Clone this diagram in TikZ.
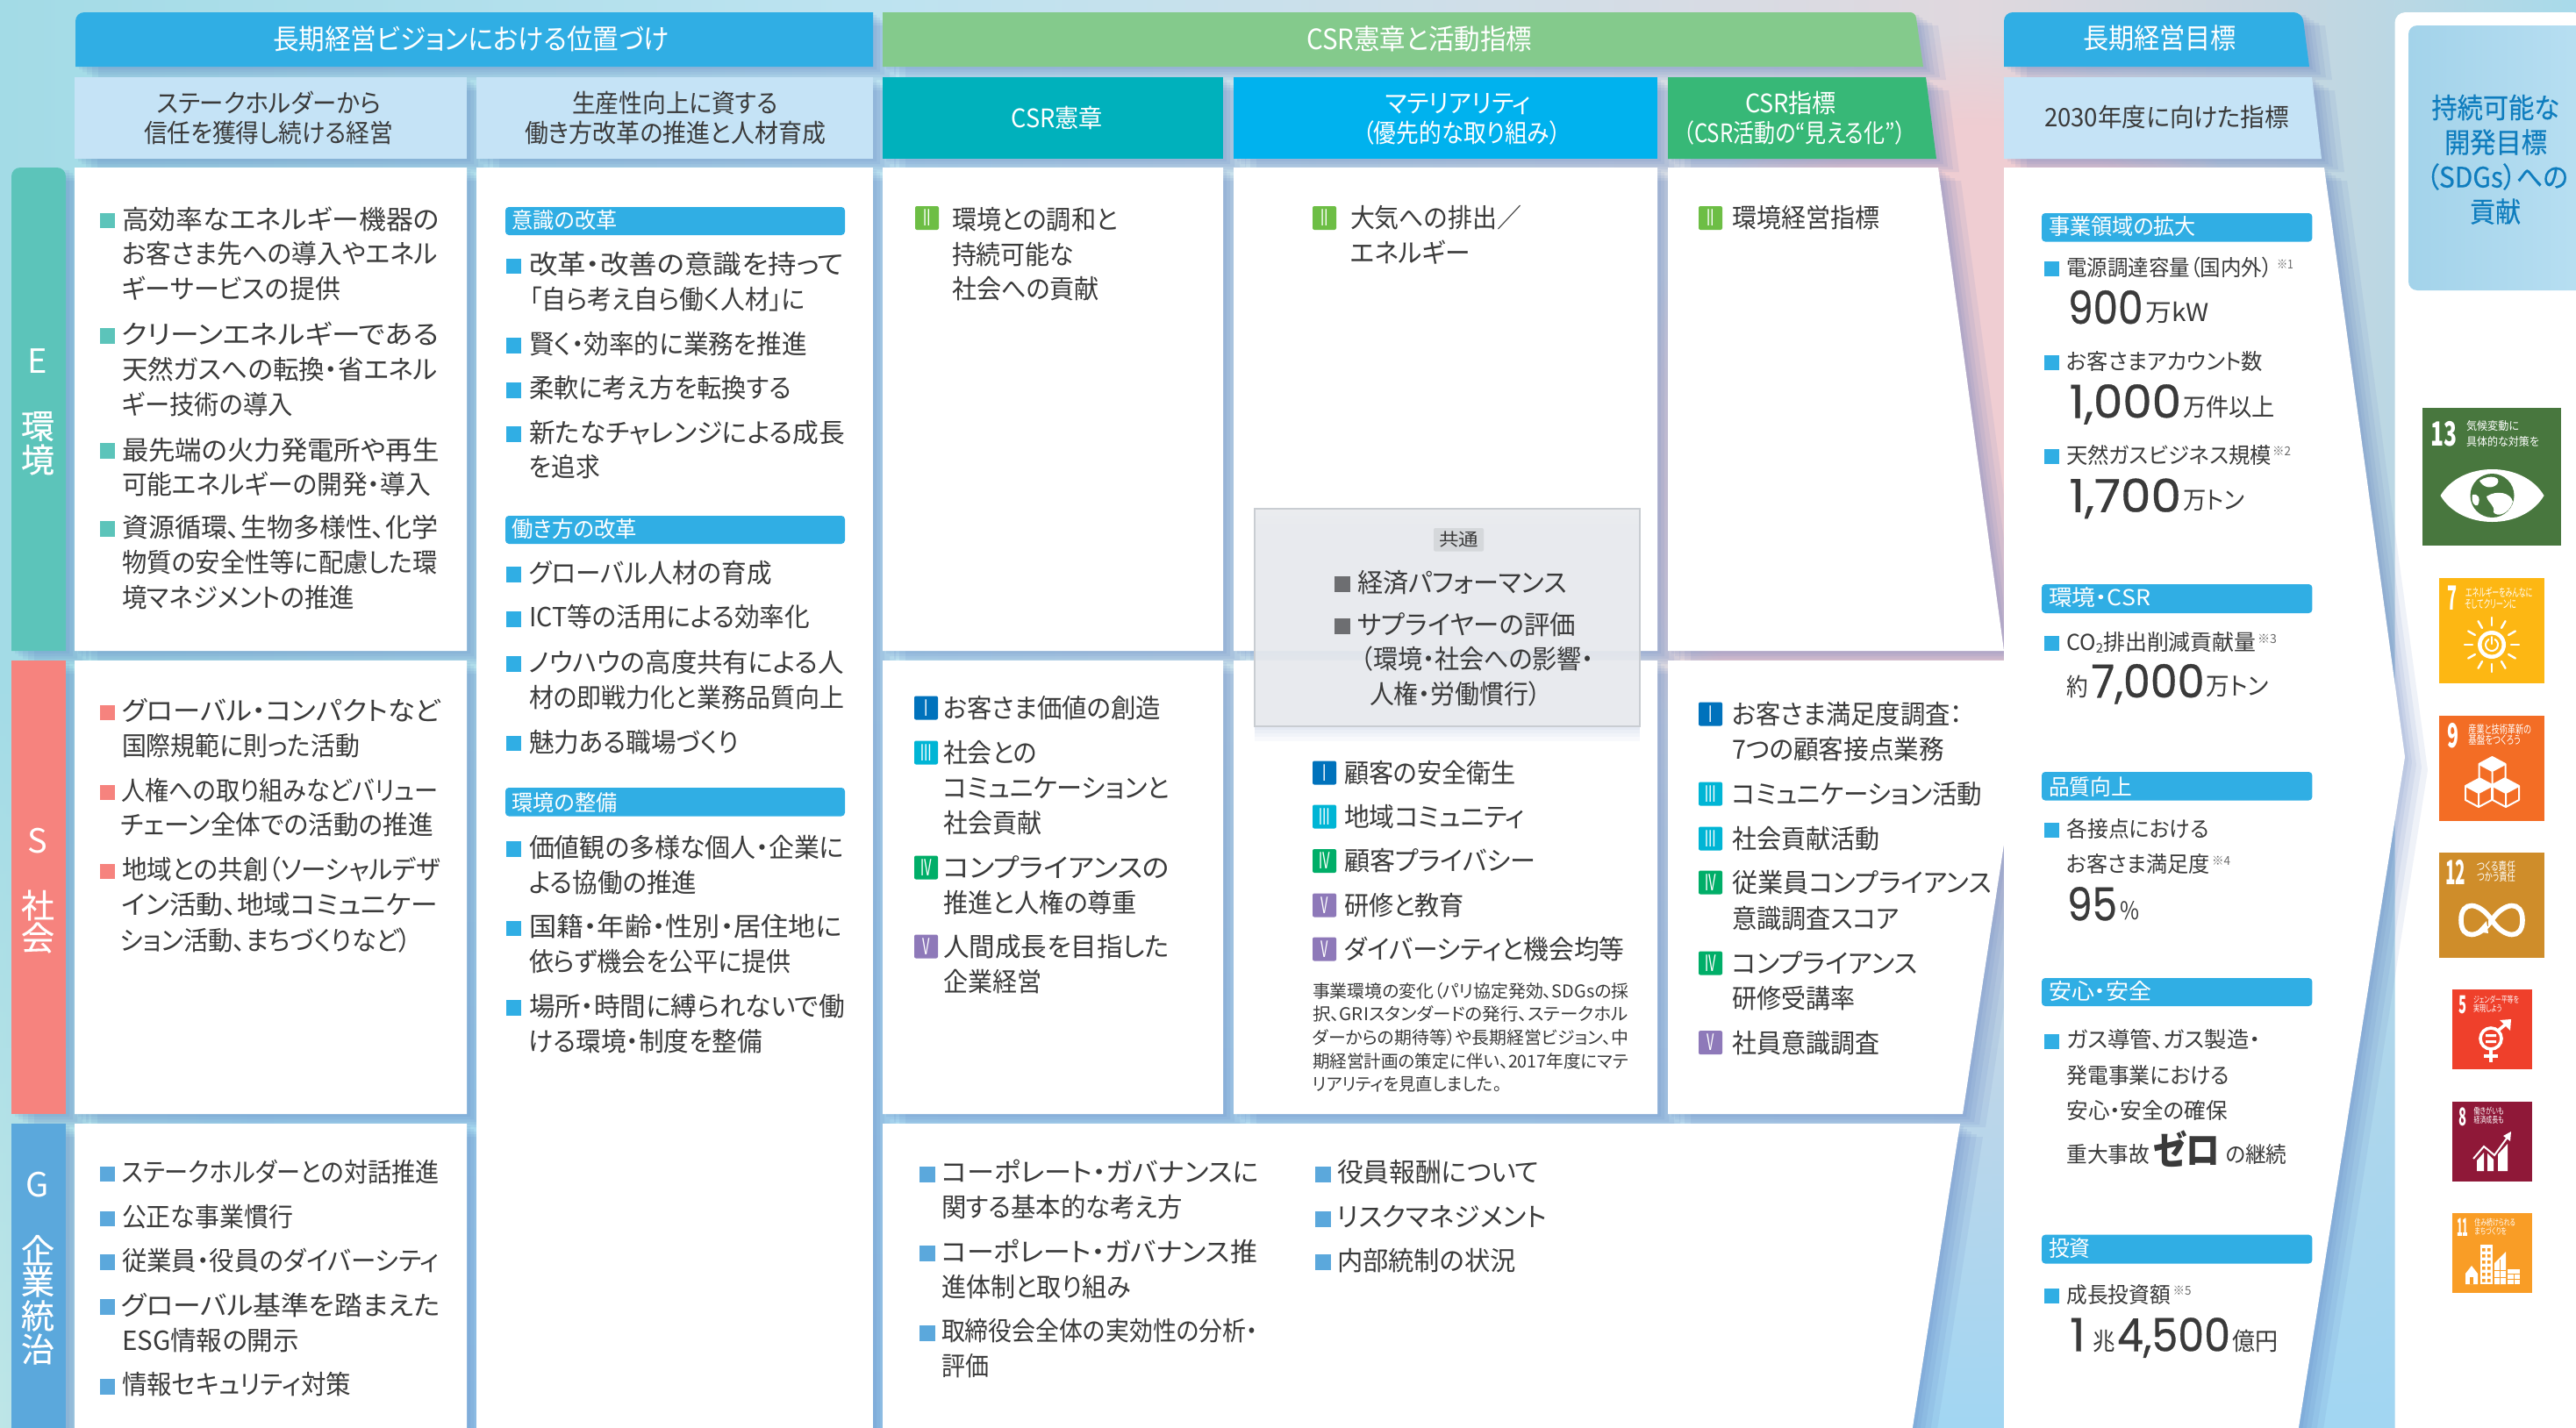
\documentclass[tikz,border=0pt]{standalone}
\usepackage{graphicx}
\usepackage{fontspec}
\usetikzlibrary{fadings}
\setmainfont{Noto Sans CJK JP}[RawFeature={+palt}]
\newfontfamily\numfont{Poppins}[FakeBold=0.6]
\newfontfamily\medfont{Noto Sans CJK JP}[RawFeature={+palt},FakeBold=0.35]
\definecolor{ink}{HTML}{3A3A3A}
\definecolor{hblue}{HTML}{30AEE4}
\definecolor{hgreen}{HTML}{84CA8C}
\definecolor{subl}{HTML}{C5E3F6}
\definecolor{cteal}{HTML}{00B1BC}
\definecolor{cblue}{HTML}{00B2EE}
\definecolor{cgreen}{HTML}{37B877}
\definecolor{barE}{HTML}{5CC4BA}
\definecolor{barS}{HTML}{F6837E}
\definecolor{barG}{HTML}{5BA8DC}
\definecolor{rI}{HTML}{0072BC}
\definecolor{rII}{HTML}{6DBE45}
\definecolor{rIII}{HTML}{00B5D5}
\definecolor{rIV}{HTML}{00AE68}
\definecolor{rV}{HTML}{8E79B9}
\definecolor{shad}{HTML}{4A6DB8}
\definecolor{bgA}{HTML}{A3DBE6}
\definecolor{bgB}{HTML}{BDE3F0}
\definecolor{bgC}{HTML}{D0DEE8}
\definecolor{bgD}{HTML}{E0D8DE}
\definecolor{bgE}{HTML}{C6D6E0}
\definecolor{bgF}{HTML}{A8DAEA}
\definecolor{bgP}{HTML}{EFCDD2}
\definecolor{botA}{HTML}{BEE6E8}
\definecolor{botB}{HTML}{A2D6F3}
\definecolor{sdgT}{HTML}{0F7DBE}
\definecolor{sdgboxA}{HTML}{A3D3EA}
\definecolor{sdgboxB}{HTML}{B8DFF2}
\definecolor{sdgXIII}{HTML}{48773E}
\definecolor{sdgVII}{HTML}{FDB713}
\definecolor{sdgIX}{HTML}{F36D25}
\definecolor{sdgXII}{HTML}{CF8D2A}
\definecolor{sdgV}{HTML}{EF402B}
\definecolor{sdgVIII}{HTML}{8F1838}
\definecolor{sdgXI}{HTML}{F99D26}
\definecolor{grayfill}{HTML}{E9EBEE}
\definecolor{grayline}{HTML}{C9CDD2}
\definecolor{graytag}{HTML}{D5D8DB}
\definecolor{graybul}{HTML}{6D6E71}
\pgfdeclarehorizontalshading{bgtop}{100bp}{color(0bp)=(bgA);color(25bp)=(bgA);color(42bp)=(bgB);color(54bp)=(bgC);color(63.3bp)=(bgD);color(69.3bp)=(bgE);color(75bp)=(bgF);color(100bp)=(bgF)}
\pgfdeclarehorizontalshading{bgbot}{100bp}{color(0bp)=(botA);color(25bp)=(botA);color(30bp)=(botB);color(100bp)=(botB)}
\tikzfading[name=fadedown,top color=transparent!100,bottom color=transparent!0]
\tikzset{
  txt/.style={inner sep=0pt,outer sep=0pt,anchor=west,text=ink},
  body/.style={txt,font=\fontsize{15}{18}\selectfont},
  toph/.style={txt,text=white,font=\fontsize{16}{18}\selectfont},
  head/.style={txt,text=white,font=\fontsize{14.5}{18}\selectfont},
  subh/.style={txt,font=\fontsize{14.5}{18}\selectfont},
  bandt/.style={txt,text=white,font=\fontsize{12.5}{15}\selectfont},
  goal/.style={txt,font=\fontsize{12.5}{15}\selectfont},
  tiny/.style={txt,font=\fontsize{10}{12}\selectfont},
  noteb/.style={txt,font=\fontsize{7}{9}\selectfont,text=ink!75},
  big/.style={txt,font=\numfont\fontsize{26}{30}\selectfont},
  unit/.style={txt,font=\fontsize{14}{17}\selectfont},
  sidet/.style={txt,anchor=center,text=white,font=\fontsize{19}{22}\selectfont},
  sidek/.style={sidet,font=\medfont\fontsize{19}{22}\selectfont},
  sdgb/.style={txt,text=sdgT,font=\medfont\fontsize{16}{20}\selectfont},
  icn/.style={txt,text=white,font=\bfseries\fontsize{19}{22}\selectfont},
  ics/.style={txt,text=white,font=\fontsize{6.5}{8}\selectfont},
  icb/.style={txt,text=white,font=\bfseries\fontsize{14}{16}\selectfont},
  icc/.style={txt,text=white,font=\fontsize{5}{6}\selectfont},
  band/.style={fill=hblue,rounded corners=2pt},
  badge/.style={inner sep=0pt,outer sep=0pt,minimum width=13.5pt,minimum height=13.5pt,rounded corners=1pt,text=white,font=\fontsize{10}{10}\selectfont},
  iline/.style={white,line width=1pt},
}
\newcounter{tn}
% [style]{x left}{x right}{y centre}{text}: one printed line, fitted to its measured width
\newcommand\tl[5][body]{%
  \stepcounter{tn}%
  \pgfmathsetmacro\tlw{(#3-#2)*0.5}%
  \node[#1] (t\thetn) at (#2,#4) {\rule[-.3em]{0pt}{1.36em}\resizebox{\tlw pt}{\height}{#5}};%
}
% [colour]{x}{size}{y centre}
\newcommand\blt[4][barE]{%
  \pgfmathsetmacro\bla{#4-#3/2}\pgfmathsetmacro\blb{#4+#3/2}\pgfmathsetmacro\blr{#2+#3}%
  \fill[#1] (#2,\bla) rectangle (\blr,\blb);%
}
% {colour}{x left}{y centre}{numeral}
\newcommand\bdg[4]{%
  \stepcounter{tn}%
  \pgfmathsetmacro\bdx{#2+13.5}%
  \node[badge,fill=#1] (t\thetn) at (\bdx,#3) {\scalebox{.72}[1.28]{#4}};%
}
\newcommand\cubeat[2]{%
  \begin{scope}[shift={(#1,#2)}]
    \fill[white] (0,-16) -- (15,-8) -- (0,0) -- (-15,-8) -- cycle;
    \draw[iline,line join=round] (0,-16) -- (15,-8) -- (15,8) -- (0,16) -- (-15,8) -- (-15,-8) -- cycle;
    \draw[iline] (-15,-8) -- (0,0) -- (15,-8) (0,0) -- (0,16);
  \end{scope}%
}
\newcommand\panelsmain{
  (86,14) -- (995,14) -- (995,76) -- (86,76) -- cycle
  (1006,14) -- (2183,14) -- (2192,76) -- (1006,76) -- cycle
  (85,88) rectangle (532,181) (543,88) rectangle (995,181)
  (1006,88) rectangle (1394,181) (1406,88) rectangle (1889,181)
  (1901,88) -- (2195,88) -- (2207,181) -- (1901,181) -- cycle
  (13,191) rectangle (75,742) (13,753) rectangle (75,1270) (13,1281) rectangle (75,1640)
  (85,191) rectangle (532,742) (85,753) rectangle (532,1270) (85,1281) rectangle (532,1640)
  (543,191) rectangle (995,1640)
  (1006,191) rectangle (1394,742) (1006,753) rectangle (1394,1270)
  (1406,191) rectangle (1889,742) (1406,753) rectangle (1889,1270)
  (1901,191) -- (2209,191) -- (2284,742) -- (1901,742) -- cycle
  (1901,753) -- (2285,753) -- (2300,858) -- (2237,1270) -- (1901,1270) -- cycle
  (1006,1281) -- (2234,1281) -- (2178,1640) -- (1006,1640) -- cycle
}
\newcommand\panelsright{
  (2284,14) -- (2624,14) -- (2632,76) -- (2284,76) -- cycle
  (2284,88) -- (2635,88) -- (2646,181) -- (2284,181) -- cycle
  (2284,191) -- (2649,191) -- (2741,863) -- (2618,1640) -- (2284,1640) -- cycle
}
\begin{document}
\begin{tikzpicture}[x=0.5pt,y=-0.5pt]
\useasboundingbox (0,0) rectangle (2936,1628);
\clip (0,0) rectangle (2936,1628);
% background
\shade[shading=bgtop] (0,0) rectangle (2936,1628);
\fill[bgP,path fading=circle with fuzzy edge 20 percent] (2250,560) ellipse (400 and 520);
\shade[shading=bgbot,path fading=fadedown] (0,760) rectangle (2936,1628);
% soft shadows
\foreach \sx/\sy in {4/3,8/6,13/9,19/12,26/15}{
  \fill[shad,fill opacity=.085,transform canvas={shift={(\sx,\sy)}}] \panelsmain;
}
% right panel
\fill[white] (2729.5,1640) -- (2729.5,26) [rounded corners=6pt] -- (2729.5,14) -- (2945,14) [sharp corners] -- (2945,1640) -- cycle;
\foreach \sx/\sy in {4/3,8/6,13/9,19/12,26/15}{
  \fill[shad,fill opacity=.085,transform canvas={shift={(\sx,\sy)}}] \panelsright;
}
% SDG title box
\shade[left color=sdgboxA,right color=sdgboxB,rounded corners=5pt] (2745,29) rectangle (2950,331);
% headers
\fill[hblue] (86,76) [rounded corners=5pt] -- (86,14) [sharp corners] -- (995,14) -- (995,76) -- cycle;
\fill[hgreen] (1006,14) [rounded corners=3pt] -- (2183,14) [sharp corners] -- (2192,76) -- (1006,76) -- cycle;
\fill[hblue] (2284,76) [rounded corners=5pt] -- (2284,14) -- (2624,14) [sharp corners] -- (2632,76) -- cycle;
\fill[subl] (85,88) rectangle (532,181);
\fill[subl] (543,88) rectangle (995,181);
\fill[cteal] (1006,88) rectangle (1394,181);
\fill[cblue] (1406,88) rectangle (1889,181);
\fill[cgreen] (1901,88) -- (2195,88) -- (2207,181) -- (1901,181) -- cycle;
\fill[subl] (2284,88) -- (2635,88) -- (2646,181) -- (2284,181) -- cycle;
% side bars
\fill[barE] (13,742) [rounded corners=5pt] -- (13,191) -- (75,191) [sharp corners] -- (75,742) -- cycle;
\fill[barS] (13,753) rectangle (75,1270);
\fill[barG] (13,1281) rectangle (75,1640);
% white panels
\fill[white] (85,191) rectangle (532,742) (85,753) rectangle (532,1270) (85,1281) rectangle (532,1640);
\fill[white] (543,191) rectangle (995,1640);
\fill[white] (1006,191) rectangle (1394,742) (1006,753) rectangle (1394,1270);
\fill[white] (1406,191) rectangle (1889,742) (1406,753) rectangle (1889,1270);
\fill[white] (1901,191) -- (2209,191) -- (2284,742) -- (1901,742) -- cycle;
\fill[white] (1901,753) -- (2285,753) -- (2300,858) -- (2237,1270) -- (1901,1270) -- cycle;
\fill[white] (1006,1281) -- (2234,1281) -- (2178,1640) -- (1006,1640) -- cycle;
\fill[white] (2284,191) -- (2649,191) -- (2741,863) -- (2618,1640) -- (2284,1640) -- cycle;

% header texts
\tl[toph]{311}{763}{44}{長期経営ビジョンにおける位置づけ}
\tl[toph]{1489}{1746}{44}{CSR憲章と活動指標}
\tl[toph]{2374}{2549}{43.5}{長期経営目標}
\tl[subh]{178.6}{434}{117}{ステークホルダーから}
\tl[subh]{164}{448}{151.5}{信任を獲得し続ける経営}
\tl[subh]{652}{886.5}{117}{生産性向上に資する}
\tl[subh]{598}{941}{151.5}{働き方改革の推進と人材育成}
\tl[head]{1152.6}{1257}{134.7}{CSR憲章}
\tl[head]{1579}{1745}{117}{マテリアリティ}
\tl[head]{1553}{1779}{151.5}{（優先的な取り組み）}
\tl[head]{1989}{2093}{117}{CSR指標}
\tl[head]{1919}{2172}{151.5}{（CSR活動の“見える化”）}
\tl[subh]{2330}{2609}{133}{2030年度に向けた指標}

% side labels
\node[sidet] (sE) at (43,412) {E};
\node[sidek] (sE1) at (43,486) {環};
\node[sidek] (sE2) at (43,524) {境};
\node[sidet] (sS) at (43,959) {S};
\node[sidek] (sS1) at (43,1032) {社};
\node[sidek] (sS2) at (43,1069) {会};
\node[sidet] (sG) at (43,1351) {G};
\node[sidek] (sG1) at (43,1425) {企};
\node[sidek] (sG2) at (43,1461) {業};
\node[sidek] (sG3) at (43,1500) {統};
\node[sidek] (sG4) at (43,1538) {治};

% column 1, E
\blt{113.5}{17.5}{251.5}\blt{113.5}{17.5}{383}\blt{113.5}{17.5}{514}\blt{113.5}{17.5}{603}
\tl{139}{500.6}{250}{高効率なエネルギー機器の}
\tl{139}{499}{289}{お客さま先への導入やエネル}
\tl{139}{388}{329}{ギーサービスの提供}
\tl{138}{500}{381}{クリーンエネルギーである}
\tl{139}{499}{421}{天然ガスへの転換・省エネル}
\tl{139}{334}{461}{ギー技術の導入}
\tl{139}{500.6}{513}{最先端の火力発電所や再生}
\tl{139}{491}{552}{可能エネルギーの開発・導入}
\tl{139}{499}{601}{資源循環、生物多様性、化学}
\tl{139}{499}{641}{物質の安全性等に配慮した環}
\tl{139}{404}{681}{境マネジメントの推進}
% column 1, S
\blt[barS]{113.5}{17.5}{812.6}\blt[barS]{113.5}{17.5}{903.4}\blt[barS]{113.5}{17.5}{993.7}
\tl{139}{502}{810}{グローバル・コンパクトなど}
\tl{139}{410}{850}{国際規範に則った活動}
\tl{138}{499}{901}{人権への取り組みなどバリュー}
\tl{138}{494}{940.5}{チェーン全体での活動の推進}
\tl{139}{502}{991}{地域との共創（ソーシャルデザ}
\tl{139}{499}{1031}{イン活動、地域コミュニケー}
\tl{137}{469}{1072}{ション活動、まちづくりなど）}
% column 1, G
\blt[barG]{113.5}{17.5}{1338.6}\blt[barG]{113.5}{17.5}{1389.6}\blt[barG]{113.5}{17.5}{1439}\blt[barG]{113.5}{17.5}{1490}\blt[barG]{113.5}{17.5}{1581}
\tl{139}{500.6}{1336}{ステークホルダーとの対話推進}
\tl{139}{334}{1387}{公正な事業慣行}
\tl{139}{500.6}{1437}{従業員・役員のダイバーシティ}
\tl{138}{502}{1487.6}{グローバル基準を踏まえた}
\tl{139}{341}{1528}{ESG情報の開示}
\tl{139}{400}{1578}{情報セキュリティ対策}

% column 2
\fill[band] (576,236) rectangle (963,268);
\tl[bandt]{583.5}{703.5}{251}{意識の改革}
\blt[hblue]{576.5}{17.5}{303.5}\blt[hblue]{576.5}{17.5}{394}\blt[hblue]{576.5}{17.5}{445}\blt[hblue]{576.5}{17.5}{495}
\tl{603}{962}{301}{改革・改善の意識を持って}
\tl{604}{918}{341}{「自ら考え自ら働く人材」に}
\tl{603}{920}{392}{賢く・効率的に業務を推進}
\tl{603}{902}{442}{柔軟に考え方を転換する}
\tl{603}{963}{493}{新たなチャレンジによる成長}
\tl{603}{684}{532}{を追求}
\fill[band] (576,588) rectangle (963,620);
\tl[bandt]{583.5}{726}{603}{働き方の改革}
\blt[hblue]{576.5}{17.5}{655}\blt[hblue]{576.5}{17.5}{706}\blt[hblue]{576.5}{17.5}{757}\blt[hblue]{576.5}{17.5}{847.5}
\tl{603}{880}{653}{グローバル人材の育成}
\tl{603}{923}{703}{ICT等の活用による効率化}
\tl{603}{962}{755}{ノウハウの高度共有による人}
\tl{603}{962}{795}{材の即戦力化と業務品質向上}
\tl{603}{842}{846}{魅力ある職場づくり}
\fill[band] (576,898) rectangle (963,930.5);
\tl[bandt]{583.5}{703.5}{914.5}{環境の整備}
\blt[hblue]{576.5}{17.5}{968}\blt[hblue]{576.5}{17.5}{1058.5}\blt[hblue]{576.5}{17.5}{1149}
\tl{603}{962}{966}{価値観の多様な個人・企業に}
\tl{603}{794}{1006}{よる協働の推進}
\tl{603}{960}{1056}{国籍・年齢・性別・居住地に}
\tl{603}{902}{1096}{依らず機会を公平に提供}
\tl{603}{963}{1147}{場所・時間に縛られないで働}
\tl{603}{869}{1187}{ける環境・制度を整備}

% CSR charter, E row
\bdg{rII}{1043}{248.5}{Ⅱ}
\tl{1085}{1274}{250}{環境との調和と}
\tl{1085}{1224}{290}{持続可能な}
\tl{1085}{1253}{329}{社会への貢献}
% materiality, E row
\bdg{rII}{1496}{248.5}{Ⅱ}
\tl{1539}{1734}{248.5}{大気への排出／}
\tl{1539}{1676}{288}{エネルギー}
% indicators, E row
\bdg{rII}{1936}{248.5}{Ⅱ}
\tl{1974}{2142}{248.5}{環境経営指標}

% common box
\foreach \so in {4,8,12,17}{
  \fill[shad,fill opacity=.035,transform canvas={shift={(0,\so)}}] (1429.5,580) rectangle (1869,827.5);
}
\fill[grayfill,fill opacity=.9] (1429.5,580) rectangle (1869,827.5);
\draw[grayline,line width=1pt] (1429.5,580) rectangle (1869,827.5);
\fill[graytag,rounded corners=1pt] (1634,602) rectangle (1691,628.6);
\tl[tiny]{1640}{1685}{615}{共通}
\blt[graybul]{1521}{18}{666}\blt[graybul]{1521}{18}{714}
\tl{1547}{1786}{664}{経済パフォーマンス}
\tl{1547}{1796}{712}{サプライヤーの評価}
\tl{1551}{1817}{751.5}{（環境・社会への影響・}
\tl{1561}{1756}{791.5}{人権・労働慣行）}

% CSR charter, S row
\bdg{rI}{1042}{807}{Ⅰ}
\tl{1075}{1323}{807}{お客さま価値の創造}
\bdg{rIII}{1042}{858}{Ⅲ}
\tl{1075}{1182}{858}{社会との}
\tl{1075}{1333}{898}{コミュニケーションと}
\tl{1075}{1187}{938}{社会貢献}
\bdg{rIV}{1042}{989}{Ⅳ}
\tl{1075}{1333}{989}{コンプライアンスの}
\tl{1075}{1296}{1029}{推進と人権の尊重}
\bdg{rV}{1042}{1079}{Ⅴ}
\tl{1075}{1333}{1079}{人間成長を目指した}
\tl{1075}{1187}{1119}{企業経営}
% materiality, S row
\bdg{rI}{1496}{881}{Ⅰ}
\tl{1532}{1728}{881}{顧客の安全衛生}
\bdg{rIII}{1496}{931}{Ⅲ}
\tl{1532}{1738}{931}{地域コミュニティ}
\bdg{rIV}{1496}{981.5}{Ⅳ}
\tl{1532}{1750}{981.5}{顧客プライバシー}
\bdg{rV}{1496}{1032}{Ⅴ}
\tl{1532}{1669}{1032}{研修と教育}
\bdg{rV}{1496}{1082}{Ⅴ}
\tl{1532}{1851.6}{1082}{ダイバーシティと機会均等}
\tl[tiny]{1496}{1856.5}{1130}{事業環境の変化（パリ協定発効、SDGsの採}
\tl[tiny]{1496}{1856}{1156}{択、GRIスタンダードの発行、ステークホル}
\tl[tiny]{1496}{1856}{1183}{ダーからの期待等）や長期経営ビジョン、中}
\tl[tiny]{1496}{1856}{1210}{期経営計画の策定に伴い、2017年度にマテ}
\tl[tiny]{1496}{1711.5}{1236}{リアリティを見直しました。}
% indicators, S row
\bdg{rI}{1936}{814}{Ⅰ}
\tl{1974}{2237}{814}{お客さま満足度調査：}
\tl{1974}{2216}{854}{7つの顧客接点業務}
\bdg{rIII}{1936}{905}{Ⅲ}
\tl{1974}{2259}{905}{コミュニケーション活動}
\bdg{rIII}{1936}{956}{Ⅲ}
\tl{1974}{2142}{956}{社会貢献活動}
\bdg{rIV}{1936}{1006}{Ⅳ}
\tl{1974}{2270}{1006}{従業員コンプライアンス}
\tl{1974}{2165}{1047}{意識調査スコア}
\bdg{rIV}{1936}{1098}{Ⅳ}
\tl{1974}{2186}{1098}{コンプライアンス}
\tl{1974}{2114}{1138}{研修受講率}
\bdg{rV}{1936}{1188.6}{Ⅴ}
\tl{1974}{2142}{1188.6}{社員意識調査}
% governance
\blt[barG]{1048}{18}{1338.6}\blt[barG]{1048}{18}{1429}\blt[barG]{1048}{18}{1520}
\tl{1073}{1435}{1336}{コーポレート・ガバナンスに}
\tl{1073}{1348}{1376}{関する基本的な考え方}
\tl{1073}{1433}{1427}{コーポレート・ガバナンス推}
\tl{1073}{1288.6}{1467}{進体制と取り組み}
\tl{1073}{1434}{1517}{取締役会全体の実効性の分析・}
\tl{1073}{1127}{1557}{評価}
\blt[barG]{1499}{18}{1338.6}\blt[barG]{1499}{18}{1389.6}\blt[barG]{1499}{18}{1439.4}
\tl{1524}{1754.6}{1336}{役員報酬について}
\tl{1524}{1763}{1387}{リスクマネジメント}
\tl{1524}{1728}{1437}{内部統制の状況}

% long-term goals
\fill[band] (2327,243) rectangle (2635.4,275.5);
\tl[bandt]{2335}{2503}{257.6}{事業領域の拡大}
\blt[hblue]{2329.6}{17}{306}
\tl[goal]{2355.4}{2590}{305}{電源調達容量（国内外）}
\tl[noteb]{2595}{2614}{301}{※1}
\tl[big]{2357}{2442.5}{349.5}{900}
\tl[unit]{2445.5}{2518}{355.6}{万kW}
\blt[hblue]{2329.6}{17}{413}
\tl[goal]{2355.4}{2579}{412}{お客さまアカウント数}
\tl[big]{2358.5}{2486}{456.6}{1,000}
\tl[unit]{2488}{2593}{464}{万件以上}
\blt[hblue]{2329.6}{17}{520.4}
\tl[goal]{2355}{2589}{519.4}{天然ガスビジネス規模}
\tl[noteb]{2590}{2611}{514}{※2}
\tl[big]{2358.5}{2486}{564}{1,700}
\tl[unit]{2488}{2558}{570}{万トン}
\fill[band] (2327,666) rectangle (2635.4,699);
\tl[bandt]{2335}{2451}{681}{環境・CSR}
\blt[hblue]{2329.6}{17}{733}
\tl[goal]{2355.4}{2571.5}{732}{CO\raisebox{-.12em}{\scalebox{.6}{2}}排出削減貢献量}
\tl[noteb]{2573}{2595}{728.6}{※3}
\tl[unit]{2355.4}{2380}{783}{約}
\tl[big]{2383.4}{2512.5}{775.5}{7,000}
\tl[unit]{2514.6}{2585.5}{781.6}{万トン}
\fill[band] (2327,880) rectangle (2635.4,912.5);
\tl[bandt]{2335}{2430}{896.6}{品質向上}
\blt[hblue]{2329.6}{17}{946}
\tl[goal]{2355.4}{2517.7}{945}{各接点における}
\tl[goal]{2355.4}{2519}{985}{お客さま満足度}
\tl[noteb]{2521}{2542}{981}{※4}
\tl[big]{2356}{2413}{1029.7}{95}
\tl[unit]{2416}{2438}{1037.6}{\%}
\fill[band] (2327,1115) rectangle (2635.4,1147);
\tl[bandt]{2335}{2452}{1130}{安心・安全}
\blt[hblue]{2329.6}{17}{1187}
\tl[goal]{2355.4}{2576}{1185.4}{ガス導管、ガス製造・}
\tl[goal]{2355.4}{2541}{1226}{発電事業における}
\tl[goal]{2355.4}{2539}{1266}{安心・安全の確保}
\tl[goal]{2355.4}{2450}{1316}{重大事故}
\tl[txt,font=\bfseries\fontsize{22}{26}\selectfont]{2453.4}{2531}{1310.6}{ゼロ}
\tl[goal]{2536.5}{2606.5}{1316}{の継続}
\fill[band] (2327,1407.7) rectangle (2635.4,1440.5);
\tl[bandt]{2335}{2382.5}{1423}{投資}
\blt[hblue]{2329.6}{17}{1477}
\tl[goal]{2355.4}{2474}{1476}{成長投資額}
\tl[noteb]{2476.6}{2497.6}{1471.6}{※5}
\tl[big]{2359}{2377}{1520.7}{1}
\tl[unit]{2385.6}{2411}{1528.6}{兆}
\tl[big]{2413}{2542}{1520.7}{4,500}
\tl[unit]{2544.4}{2596.5}{1528.6}{億円}

% SDG title
\tl[sdgb]{2771.4}{2917}{122.5}{持続可能な}
\tl[sdgb]{2786}{2903}{162}{開発目標}
\tl[sdgb]{2765}{2927}{201.5}{（SDGs）への}
\tl[sdgb]{2815}{2873}{241}{貢献}

% SDG 13
\fill[sdgXIII] (2761,465) rectangle (2919,622);
\tl[icn]{2770}{2800}{494}{13}
\tl[ics]{2811}{2871}{486}{気候変動に}
\tl[ics]{2811}{2894}{503.6}{具体的な対策を}
\fill[white] (2781.5,565) .. controls (2805,525) and (2876,525) .. (2899.5,565) .. controls (2876,605) and (2805,605) .. cycle;
\fill[sdgXIII] (2840.5,565) circle (25);
\fill[white] (2826,548) .. controls (2838,540) and (2852,544) .. (2846,552) .. controls (2840,558) and (2830,556) .. cycle;
\fill[white] (2834,566) .. controls (2846,558) and (2862,562) .. (2864,572) .. controls (2860,586) and (2846,590) .. (2842,584) .. controls (2844,576) and (2836,574) .. cycle;
\fill[white] (2818,564) .. controls (2824,562) and (2828,568) .. (2824,576) .. controls (2820,578) and (2816,572) .. cycle;
% SDG 7
\fill[sdgVII] (2780,659) rectangle (2900,779);
\tl[icn]{2789}{2800}{681}{7}
\tl[ics]{2810}{2886.5}{675.5}{エネルギーをみんなに}
\tl[ics]{2809}{2868}{689}{そしてクリーンに}
\foreach \a in {0,30,...,330}{
  \draw[white,line width=1.2pt,line cap=round] (2840,735) ++(\a:22) -- ++(\a:9);
}
\fill[white] (2840,735) circle (16);
\fill[sdgVII] (2840,735) circle (11.5);
\draw[white,line width=1pt,line cap=round] (2840,735) ++(-60:7) arc (-60:240:7);
\draw[white,line width=1pt,line cap=round] (2840,726) -- (2840,734);
% SDG 9
\fill[sdgIX] (2780,816) rectangle (2900,936);
\tl[icn]{2789}{2802}{838}{9}
\tl[ics]{2813.4}{2885}{831.7}{産業と技術革新の}
\tl[ics]{2813.4}{2873}{844}{基盤をつくろう}
\cubeat{2840.5}{879}
\cubeat{2825}{904}
\cubeat{2856}{904}
% SDG 12
\fill[sdgXII] (2780,972) rectangle (2900,1091.5);
\tl[icn]{2787}{2810}{994}{12}
\tl[ics]{2823}{2867}{987.4}{つくる責任}
\tl[ics]{2823}{2867}{1000}{つかう責任}
\draw[white,line width=2.8pt] (2840,1049) .. controls (2826,1028) and (2805,1026) .. (2805,1049) .. controls (2805,1072) and (2826,1070) .. (2840,1049) .. controls (2854,1028) and (2875,1026) .. (2875,1049) .. controls (2875,1072) and (2854,1070) .. (2840,1049);
\fill[sdgXII] (2828,1048) rectangle (2836,1056);
\fill[white] (2834,1050) -- (2836,1064) -- (2823,1062) -- cycle;
% SDG 5
\fill[sdgV] (2795,1128) rectangle (2886,1219);
\tl[icb]{2802}{2811}{1145}{5}
\tl[icc]{2819}{2871}{1140}{ジェンダー平等を}
\tl[icc]{2819}{2851.5}{1149.5}{実現しよう}
\draw[white,line width=1.8pt] (2839,1184) circle (12);
\fill[white] (2833,1179) rectangle (2845,1182) (2833,1186) rectangle (2845,1189);
\draw[white,line width=1.8pt] (2839,1196) -- (2839,1211) (2831,1204) -- (2847,1204);
\draw[white,line width=1.8pt] (2847,1175) -- (2858,1166);
\fill[white] (2862,1162) -- (2849,1163) -- (2861,1175) -- cycle;
% SDG 8
\fill[sdgVIII] (2795,1256) rectangle (2886,1347);
\tl[icb]{2802}{2811}{1272.5}{8}
\tl[icc]{2819.6}{2853.7}{1267}{働きがいも}
\tl[icc]{2819.6}{2853.7}{1277}{経済成長も}
\fill[white] (2823,1335) -- (2823,1323) -- (2831,1314) -- (2831,1335) -- cycle;
\fill[white] (2835,1335) -- (2835,1315) -- (2842,1322) -- (2842,1335) -- cycle;
\fill[white] (2847,1335) -- (2847,1316) -- (2858,1304) -- (2858,1335) -- cycle;
\draw[white,line width=1pt] (2819,1321) -- (2831,1307) -- (2843,1317) -- (2859,1295);
\fill[white] (2862,1290) -- (2861,1301) -- (2853,1295) -- cycle;
% SDG 11
\fill[sdgXI] (2795,1383) rectangle (2886,1474);
\tl[icb]{2800}{2813.4}{1399}{11}
\tl[icc]{2820.4}{2867}{1394}{住み続けられる}
\tl[icc]{2820.4}{2857}{1404}{まちづくりを}
\fill[white] (2810,1464) -- (2810,1452) -- (2817,1443) -- (2824,1452) -- (2824,1464) -- cycle;
\fill[sdgXI] (2815,1456) rectangle (2819,1464);
\fill[white] (2826.6,1419) rectangle (2840.5,1464);
\foreach \wy in {1423,1430,1437,1444,1451,1458}{
  \fill[sdgXI] (2829,\wy) rectangle (2832.5,\wy+3.5) (2835,\wy) rectangle (2838.5,\wy+3.5);
}
\fill[white] (2843,1464) -- (2843,1440) -- (2856,1427) -- (2856,1464) -- cycle;
\draw[sdgXI,line width=.5pt] (2843,1448) -- (2856,1448) (2843,1456) -- (2856,1456) (2849.5,1436) -- (2849.5,1464);
\fill[white] (2858,1447) rectangle (2872,1464);
\draw[sdgXI,line width=.5pt] (2858,1452) -- (2872,1452) (2858,1458) -- (2872,1458) (2865,1452) -- (2865,1464);
\end{tikzpicture}
\end{document}
